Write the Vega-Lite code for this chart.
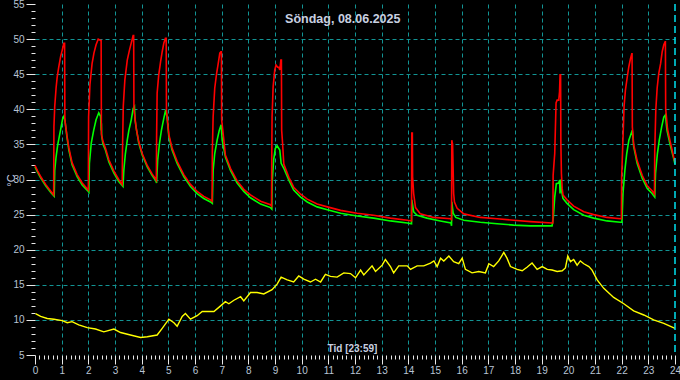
{
  "$schema": "https://vega.github.io/schema/vega-lite/v6.json",
  "width": 640,
  "height": 351,
  "autosize": {"type": "none"},
  "padding": {"left": 35, "top": 4, "right": 5, "bottom": 25},
  "background": "#000000",
  "title": {
    "text": "Söndag, 08.06.2025",
    "anchor": "middle",
    "frame": "bounds",
    "offset": -26,
    "font": "Liberation Sans",
    "fontSize": 12.5,
    "fontWeight": "bold",
    "color": "#c8d0e0"
  },
  "config": {
    "view": {"stroke": null},
    "axis": {
      "labelFont": "Liberation Sans",
      "labelFontSize": 10,
      "labelColor": "#b8c4d4",
      "tickColor": "#e8e8e8",
      "tickWidth": 1,
      "domain": false,
      "gridColor": "#129494",
      "gridDash": [4, 3],
      "gridWidth": 1,
      "labelOverlap": false,
      "labelFlush": false
    }
  },
  "datasets": {
    "fram": [
      {"t":0.00,"v":32.0},{"t":0.10,"v":31.2},{"t":0.20,"v":30.5},{"t":0.30,"v":29.9},{"t":0.40,"v":29.3},{"t":0.50,"v":28.8},{"t":0.60,"v":28.3},{"t":0.70,"v":27.8},
      {"t":0.71,"v":37.5},{"t":0.74,"v":40.4},{"t":0.79,"v":43.0},{"t":0.83,"v":44.5},{"t":0.89,"v":46.0},{"t":0.96,"v":47.5},{"t":1.02,"v":48.4},{"t":1.08,"v":49.4},{"t":1.11,"v":49.4},
      {"t":1.12,"v":38.5},{"t":1.20,"v":36.2},{"t":1.27,"v":34.5},{"t":1.39,"v":32.4},{"t":1.58,"v":30.7},{"t":1.77,"v":29.5},{"t":2.00,"v":28.5},
      {"t":2.01,"v":38.9},{"t":2.06,"v":43.5},{"t":2.14,"v":46.5},{"t":2.21,"v":48.0},{"t":2.29,"v":49.2},{"t":2.37,"v":50.0},{"t":2.46,"v":49.8},{"t":2.48,"v":49.8},
      {"t":2.49,"v":36.5},{"t":2.55,"v":35.4},{"t":2.64,"v":34.5},{"t":2.77,"v":32.8},{"t":2.96,"v":31.2},{"t":3.14,"v":30.0},{"t":3.27,"v":29.3},
      {"t":3.28,"v":33.8},{"t":3.31,"v":40.4},{"t":3.37,"v":44.2},{"t":3.46,"v":47.0},{"t":3.54,"v":48.4},{"t":3.62,"v":49.6},{"t":3.68,"v":50.5},{"t":3.70,"v":50.5},
      {"t":3.71,"v":40.0},{"t":3.80,"v":37.2},{"t":3.89,"v":35.4},{"t":4.02,"v":33.7},{"t":4.21,"v":32.0},{"t":4.39,"v":30.8},{"t":4.52,"v":30.1},{"t":4.55,"v":29.9},
      {"t":4.56,"v":36.0},{"t":4.58,"v":42.3},{"t":4.64,"v":44.9},{"t":4.71,"v":46.8},{"t":4.77,"v":48.2},{"t":4.83,"v":49.4},{"t":4.89,"v":50.1},{"t":4.92,"v":50.1},
      {"t":4.93,"v":39.9},{"t":5.02,"v":36.4},{"t":5.14,"v":34.5},{"t":5.33,"v":32.6},{"t":5.58,"v":30.7},{"t":5.83,"v":29.3},{"t":6.08,"v":28.3},{"t":6.33,"v":27.6},{"t":6.58,"v":27.1},{"t":6.64,"v":26.9},
      {"t":6.65,"v":34.0},{"t":6.68,"v":38.9},{"t":6.74,"v":43.0},{"t":6.81,"v":45.1},{"t":6.87,"v":46.5},{"t":6.93,"v":48.0},{"t":6.97,"v":48.2},{"t":6.99,"v":48.2},
      {"t":7.00,"v":38.5},{"t":7.14,"v":33.5},{"t":7.33,"v":31.6},{"t":7.58,"v":29.8},{"t":7.83,"v":28.6},{"t":8.08,"v":27.8},{"t":8.46,"v":26.9},{"t":8.83,"v":26.4},{"t":8.87,"v":26.2},
      {"t":8.88,"v":34.0},{"t":8.89,"v":38.9},{"t":8.93,"v":43.2},{"t":8.99,"v":45.6},{"t":9.04,"v":46.3},{"t":9.10,"v":46.0},{"t":9.14,"v":46.0},{"t":9.18,"v":45.6},{"t":9.22,"v":47.0},{"t":9.24,"v":47.0},
      {"t":9.25,"v":37.0},{"t":9.28,"v":35.4},{"t":9.33,"v":32.2},{"t":9.52,"v":30.3},{"t":9.70,"v":28.9},{"t":9.96,"v":27.9},{"t":10.21,"v":27.2},{"t":10.58,"v":26.5},{"t":10.96,"v":26.1},{"t":11.46,"v":25.6},{"t":12.08,"v":25.2},{"t":12.70,"v":24.9},{"t":13.33,"v":24.5},{"t":13.96,"v":24.2},{"t":14.12,"v":24.1},
      {"t":14.13,"v":36.6},{"t":14.15,"v":36.6},{"t":14.16,"v":30.4},{"t":14.20,"v":28.0},{"t":14.27,"v":26.0},{"t":14.45,"v":25.1},{"t":14.95,"v":24.6},{"t":15.58,"v":24.4},{"t":15.62,"v":24.3},
      {"t":15.63,"v":35.6},{"t":15.66,"v":35.0},{"t":15.70,"v":28.0},{"t":15.73,"v":26.8},{"t":15.83,"v":25.9},{"t":16.08,"v":25.1},{"t":16.70,"v":24.6},{"t":17.33,"v":24.4},{"t":17.95,"v":24.2},{"t":18.58,"v":24.0},{"t":19.39,"v":23.8},{"t":19.42,"v":23.8},
      {"t":19.43,"v":30.6},{"t":19.49,"v":33.7},{"t":19.54,"v":40.9},{"t":19.58,"v":41.3},{"t":19.64,"v":41.3},{"t":19.67,"v":42.5},{"t":19.69,"v":44.9},{"t":19.71,"v":44.9},
      {"t":19.72,"v":35.2},{"t":19.74,"v":30.9},{"t":19.77,"v":28.7},{"t":19.80,"v":27.8},{"t":19.95,"v":27.1},{"t":20.20,"v":26.2},{"t":20.58,"v":25.4},{"t":20.95,"v":25.0},{"t":21.45,"v":24.6},{"t":21.95,"v":24.4},{"t":21.99,"v":24.4},
      {"t":22.00,"v":30.4},{"t":22.06,"v":37.0},{"t":22.09,"v":40.4},{"t":22.14,"v":42.7},{"t":22.21,"v":44.6},{"t":22.27,"v":46.1},{"t":22.33,"v":47.2},{"t":22.38,"v":47.9},{"t":22.39,"v":47.9},
      {"t":22.40,"v":37.5},{"t":22.45,"v":35.0},{"t":22.58,"v":32.7},{"t":22.77,"v":30.6},{"t":22.96,"v":29.1},{"t":23.14,"v":28.4},{"t":23.23,"v":27.9},
      {"t":23.24,"v":34.0},{"t":23.28,"v":39.9},{"t":23.33,"v":43.0},{"t":23.39,"v":45.1},{"t":23.46,"v":46.5},{"t":23.52,"v":48.2},{"t":23.58,"v":49.2},{"t":23.63,"v":49.6},{"t":23.64,"v":49.6},
      {"t":23.65,"v":40.1},{"t":23.72,"v":37.2},{"t":23.82,"v":35.4},{"t":23.95,"v":33.2},{"t":24.00,"v":32.5}
    ],
    "retur": [
      {"t":0.00,"v":31.8},{"t":0.10,"v":31.0},{"t":0.20,"v":30.3},{"t":0.30,"v":29.7},{"t":0.40,"v":29.1},{"t":0.50,"v":28.6},{"t":0.60,"v":28.1},{"t":0.72,"v":27.6},
      {"t":0.74,"v":31.3},{"t":0.79,"v":33.2},{"t":0.85,"v":34.9},{"t":0.91,"v":36.1},{"t":0.98,"v":37.5},{"t":1.04,"v":38.7},{"t":1.08,"v":39.0},{"t":1.12,"v":38.5},
      {"t":1.20,"v":36.0},{"t":1.27,"v":34.2},{"t":1.39,"v":32.1},{"t":1.58,"v":30.4},{"t":1.77,"v":29.2},{"t":2.00,"v":28.3},{"t":2.02,"v":28.2},
      {"t":2.04,"v":32.3},{"t":2.11,"v":35.2},{"t":2.20,"v":37.0},{"t":2.29,"v":38.5},{"t":2.39,"v":39.5},{"t":2.46,"v":39.0},{"t":2.48,"v":37.0},{"t":2.49,"v":38.0},
      {"t":2.50,"v":36.2},{"t":2.55,"v":35.0},{"t":2.64,"v":34.2},{"t":2.77,"v":32.5},{"t":2.96,"v":30.9},{"t":3.14,"v":29.7},{"t":3.30,"v":29.0},
      {"t":3.33,"v":31.3},{"t":3.39,"v":33.7},{"t":3.46,"v":35.6},{"t":3.52,"v":37.0},{"t":3.61,"v":38.5},{"t":3.68,"v":40.1},{"t":3.73,"v":40.4},{"t":3.75,"v":38.5},
      {"t":3.81,"v":37.0},{"t":3.89,"v":35.2},{"t":4.02,"v":33.5},{"t":4.21,"v":31.8},{"t":4.39,"v":30.6},{"t":4.52,"v":29.9},{"t":4.56,"v":29.5},
      {"t":4.60,"v":32.8},{"t":4.67,"v":35.2},{"t":4.74,"v":37.0},{"t":4.83,"v":38.7},{"t":4.90,"v":39.9},{"t":4.95,"v":38.9},
      {"t":5.02,"v":36.1},{"t":5.14,"v":34.2},{"t":5.33,"v":32.3},{"t":5.58,"v":30.4},{"t":5.83,"v":29.0},{"t":6.08,"v":28.0},{"t":6.33,"v":27.3},{"t":6.58,"v":26.8},{"t":6.65,"v":26.6},
      {"t":6.68,"v":31.3},{"t":6.74,"v":33.7},{"t":6.83,"v":35.6},{"t":6.91,"v":37.0},{"t":6.98,"v":37.8},{"t":7.02,"v":35.6},
      {"t":7.14,"v":33.2},{"t":7.33,"v":31.3},{"t":7.58,"v":29.5},{"t":7.83,"v":28.3},{"t":8.08,"v":27.4},{"t":8.46,"v":26.5},{"t":8.83,"v":26.0},{"t":8.88,"v":25.8},
      {"t":8.89,"v":29.5},{"t":8.95,"v":32.8},{"t":9.01,"v":34.4},{"t":9.08,"v":34.8},{"t":9.18,"v":34.2},{"t":9.23,"v":32.3},
      {"t":9.33,"v":31.6},{"t":9.52,"v":29.9},{"t":9.70,"v":28.5},{"t":9.96,"v":27.5},{"t":10.21,"v":26.8},{"t":10.58,"v":26.1},{"t":10.96,"v":25.7},{"t":11.46,"v":25.2},{"t":12.08,"v":24.8},{"t":12.70,"v":24.5},{"t":13.33,"v":24.1},{"t":13.96,"v":23.8},{"t":14.12,"v":23.7},
      {"t":14.13,"v":27.1},{"t":14.20,"v":25.4},{"t":14.33,"v":24.9},{"t":14.70,"v":24.5},{"t":15.20,"v":24.1},{"t":15.60,"v":23.8},{"t":15.62,"v":23.4},
      {"t":15.63,"v":26.8},{"t":15.68,"v":25.2},{"t":15.78,"v":24.6},{"t":16.08,"v":24.2},{"t":16.70,"v":23.9},{"t":17.33,"v":23.7},{"t":17.95,"v":23.5},{"t":18.58,"v":23.4},{"t":19.39,"v":23.4},
      {"t":19.44,"v":24.7},{"t":19.49,"v":27.5},{"t":19.55,"v":29.4},{"t":19.64,"v":29.5},{"t":19.67,"v":29.9},{"t":19.69,"v":28.0},{"t":19.70,"v":30.0},{"t":19.74,"v":28.5},
      {"t":19.80,"v":27.3},{"t":19.95,"v":26.6},{"t":20.20,"v":25.7},{"t":20.58,"v":24.9},{"t":20.95,"v":24.5},{"t":21.45,"v":24.1},{"t":21.95,"v":23.9},{"t":22.01,"v":23.9},
      {"t":22.05,"v":28.0},{"t":22.12,"v":31.3},{"t":22.19,"v":33.7},{"t":22.27,"v":35.6},{"t":22.36,"v":36.6},{"t":22.40,"v":37.0},
      {"t":22.45,"v":34.7},{"t":22.58,"v":32.3},{"t":22.77,"v":30.2},{"t":22.96,"v":28.7},{"t":23.14,"v":28.0},{"t":23.24,"v":27.5},
      {"t":23.27,"v":30.9},{"t":23.34,"v":33.7},{"t":23.41,"v":35.6},{"t":23.50,"v":37.5},{"t":23.58,"v":38.9},{"t":23.64,"v":39.2},
      {"t":23.70,"v":37.0},{"t":23.82,"v":34.9},{"t":23.95,"v":33.0},{"t":24.00,"v":32.2}
    ],
    "ute": [
      {"t":0.02,"v":10.9},{"t":0.21,"v":10.5},{"t":0.46,"v":10.2},{"t":0.71,"v":10.1},{"t":1.02,"v":9.9},{"t":1.21,"v":9.6},{"t":1.39,"v":9.75},{"t":1.64,"v":9.3},{"t":1.96,"v":8.9},
      {"t":2.27,"v":8.7},{"t":2.58,"v":8.3},{"t":2.96,"v":8.7},{"t":3.21,"v":8.2},{"t":3.58,"v":7.85},{"t":3.96,"v":7.5},{"t":4.21,"v":7.6},{"t":4.58,"v":7.85},{"t":4.77,"v":8.8},
      {"t":5.02,"v":10.1},{"t":5.21,"v":9.6},{"t":5.33,"v":9.1},{"t":5.52,"v":10.5},{"t":5.64,"v":10.9},{"t":5.83,"v":10.1},{"t":6.08,"v":10.6},{"t":6.27,"v":11.2},{"t":6.71,"v":11.2},
      {"t":6.96,"v":12.0},{"t":7.14,"v":12.6},{"t":7.27,"v":12.3},{"t":7.46,"v":12.8},{"t":7.71,"v":13.3},{"t":7.83,"v":12.7},{"t":8.08,"v":13.9},{"t":8.33,"v":13.9},{"t":8.58,"v":13.7},
      {"t":8.89,"v":14.3},{"t":9.08,"v":15.1},{"t":9.23,"v":16.1},{"t":9.46,"v":15.7},{"t":9.70,"v":15.4},{"t":9.89,"v":16.25},{"t":10.08,"v":15.8},{"t":10.33,"v":15.4},{"t":10.52,"v":15.8},
      {"t":10.71,"v":15.4},{"t":10.89,"v":16.5},{"t":11.08,"v":16.2},{"t":11.33,"v":16.1},{"t":11.58,"v":16.7},{"t":11.83,"v":16.6},{"t":12.02,"v":16.0},{"t":12.21,"v":17.1},{"t":12.33,"v":16.4},
      {"t":12.64,"v":17.7},{"t":12.77,"v":16.9},{"t":13.02,"v":17.8},{"t":13.14,"v":18.6},{"t":13.33,"v":17.6},{"t":13.45,"v":16.7},{"t":13.64,"v":17.7},{"t":13.96,"v":17.7},{"t":14.08,"v":17.2},
      {"t":14.33,"v":17.7},{"t":14.58,"v":17.7},{"t":14.83,"v":18.1},{"t":14.96,"v":18.4},{"t":15.08,"v":17.6},{"t":15.21,"v":18.8},{"t":15.33,"v":18.4},{"t":15.52,"v":19.1},{"t":15.70,"v":18.3},
      {"t":15.89,"v":18.0},{"t":16.02,"v":18.8},{"t":16.14,"v":17.2},{"t":16.39,"v":16.7},{"t":16.64,"v":16.9},{"t":16.89,"v":16.7},{"t":17.02,"v":18.0},{"t":17.20,"v":17.6},{"t":17.39,"v":18.4},
      {"t":17.58,"v":19.6},{"t":17.70,"v":18.8},{"t":17.83,"v":17.6},{"t":18.08,"v":17.2},{"t":18.27,"v":17.0},{"t":18.45,"v":17.5},{"t":18.64,"v":18.1},{"t":18.83,"v":17.2},{"t":19.02,"v":17.6},
      {"t":19.21,"v":17.2},{"t":19.39,"v":17.1},{"t":19.58,"v":16.9},{"t":19.77,"v":17.0},{"t":19.89,"v":17.4},{"t":19.98,"v":19.1},{"t":20.08,"v":18.3},{"t":20.20,"v":18.6},{"t":20.33,"v":17.8},
      {"t":20.45,"v":18.4},{"t":20.58,"v":18.0},{"t":20.77,"v":17.6},{"t":20.89,"v":17.1},{"t":21.08,"v":15.7},{"t":21.33,"v":14.5},{"t":21.70,"v":13.2},{"t":22.08,"v":12.3},{"t":22.45,"v":11.3},
      {"t":22.83,"v":10.7},{"t":23.20,"v":10.0},{"t":23.58,"v":9.5},{"t":24.00,"v":8.8}
    ],
    "nu": [{"t": 24}]
  },
  "encoding": {
    "x": {
      "field": "t",
      "type": "quantitative",
      "scale": {"domain": [0, 24], "nice": false, "zero": false},
      "axis": {
        "title": "Tid [23:59]",
        "titleColor": "#c8d0e0",
        "titleFont": "Liberation Sans",
        "titleFontSize": 10,
        "titleFontWeight": "bold",
        "titleX": 317,
        "titleY": -7,
        "titleAlign": "center",
        "titleBaseline": "middle",
        "values": [0,0.1667,0.3333,0.5,0.6667,0.8333,1,1.1667,1.3333,1.5,1.6667,1.8333,2,2.1667,2.3333,2.5,2.6667,2.8333,3,3.1667,3.3333,3.5,3.6667,3.8333,4,4.1667,4.3333,4.5,4.6667,4.8333,5,5.1667,5.3333,5.5,5.6667,5.8333,6,6.1667,6.3333,6.5,6.6667,6.8333,7,7.1667,7.3333,7.5,7.6667,7.8333,8,8.1667,8.3333,8.5,8.6667,8.8333,9,9.1667,9.3333,9.5,9.6667,9.8333,10,10.1667,10.3333,10.5,10.6667,10.8333,11,11.1667,11.3333,11.5,11.6667,11.8333,12,12.1667,12.3333,12.5,12.6667,12.8333,13,13.1667,13.3333,13.5,13.6667,13.8333,14,14.1667,14.3333,14.5,14.6667,14.8333,15,15.1667,15.3333,15.5,15.6667,15.8333,16,16.1667,16.3333,16.5,16.6667,16.8333,17,17.1667,17.3333,17.5,17.6667,17.8333,18,18.1667,18.3333,18.5,18.6667,18.8333,19,19.1667,19.3333,19.5,19.6667,19.8333,20,20.1667,20.3333,20.5,20.6667,20.8333,21,21.1667,21.3333,21.5,21.6667,21.8333,22,22.1667,22.3333,22.5,22.6667,22.8333,23,23.1667,23.3333,23.5,23.6667,23.8333,24],
        "labelExpr": "abs(datum.value - round(datum.value)) < 0.01 ? format(round(datum.value), 'd') : ''",
        "tickSize": {"condition": {"test": "abs(datum.value - round(datum.value)) < 0.01", "value": 9}, "value": 4},
        "gridOpacity": {"condition": {"test": "abs(datum.value - round(datum.value)) < 0.01 && datum.value > 0.5 && datum.value < 23.5", "value": 1}, "value": 0},
        "labelPadding": 1
      }
    },
    "y": {
      "field": "v",
      "type": "quantitative",
      "scale": {"domain": [5, 55], "nice": false, "zero": false},
      "axis": {
        "title": "°C",
        "titleColor": "#c8d0e0",
        "titleFont": "Liberation Sans",
        "titleFontSize": 11,
        "titleFontWeight": "normal",
        "titleAngle": 270,
        "titleX": -24,
        "titleY": 176,
        "titleAlign": "center",
        "titleBaseline": "middle",
        "values": [5,6,7,8,9,10,11,12,13,14,15,16,17,18,19,20,21,22,23,24,25,26,27,28,29,30,31,32,33,34,35,36,37,38,39,40,41,42,43,44,45,46,47,48,49,50,51,52,53,54,55],
        "labelExpr": "datum.value % 5 === 0 ? datum.value : ''",
        "tickSize": {"condition": {"test": "datum.value % 5 === 0", "value": 9}, "value": 4},
        "gridOpacity": {"condition": {"test": "datum.value % 5 === 0 && datum.value > 5 && datum.value < 55", "value": 1}, "value": 0},
        "labelPadding": 2
      }
    }
  },
  "layer": [
    {"data": {"name": "retur"}, "mark": {"type": "line", "color": "#00ff00", "strokeWidth": 1.6, "interpolate": "linear"}},
    {"data": {"name": "fram"}, "mark": {"type": "line", "color": "#ff0000", "strokeWidth": 1.6, "interpolate": "linear"}},
    {"data": {"name": "ute"}, "mark": {"type": "line", "color": "#ffff00", "strokeWidth": 1.4, "interpolate": "linear"}},
    {"data": {"name": "nu"}, "mark": {"type": "rule", "color": "#00e0f0", "strokeWidth": 1.5, "strokeDash": [7, 4]}, "encoding": {"x": {"field": "t", "type": "quantitative"}, "y": null}}
  ]
}
